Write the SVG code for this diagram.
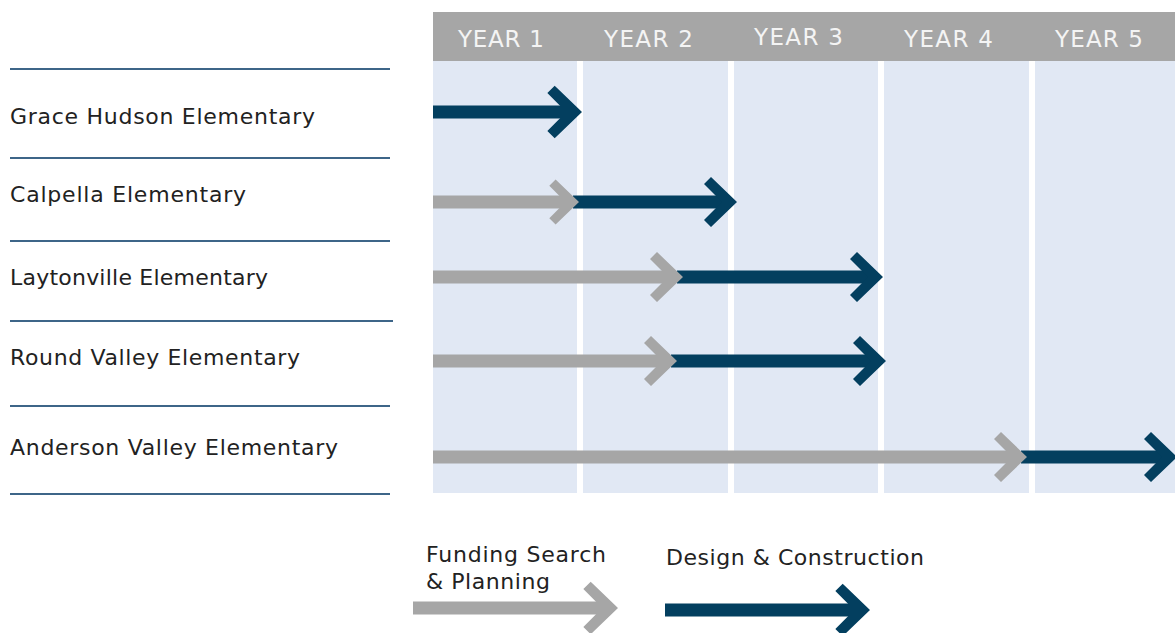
<svg xmlns="http://www.w3.org/2000/svg" width="1175" height="633" viewBox="0 0 1175 633">
<defs>
<style>
.col{fill:#e1e8f4}
.hdr{fill:#a6a6a6}
.yr{font-family:"DejaVu Sans","Liberation Sans",sans-serif;font-size:23px;fill:#f4f4f4}
.lbl{font-family:"DejaVu Sans","Liberation Sans",sans-serif;font-size:22px;fill:#222}
.rule{stroke:#3d6588;stroke-width:2}
.g{fill:#a6a6a6}
.d{fill:#033f5f}
</style>
<polygon id="head" points="0,0 -26,-25 -33,-18 -15,0 -33,18 -26,25"/>
</defs>
<rect width="1175" height="633" fill="#fff"/>
<g id="grid">
<rect class="col" x="433" y="61" width="144" height="432"/>
<rect class="col" x="583" y="61" width="145" height="432"/>
<rect class="col" x="734" y="61" width="144" height="432"/>
<rect class="col" x="884" y="61" width="145" height="432"/>
<rect class="col" x="1035" y="61" width="140" height="432"/>
<rect class="hdr" x="433" y="12" width="742" height="49"/>
<text class="yr" x="458" y="47" textLength="86">YEAR 1</text>
<text class="yr" x="604" y="47" textLength="89">YEAR 2</text>
<text class="yr" x="754" y="45" textLength="89">YEAR 3</text>
<text class="yr" x="904" y="47" textLength="89">YEAR 4</text>
<text class="yr" x="1055" y="47" textLength="88">YEAR 5</text>
</g>
<g id="rules">
<line class="rule" x1="10" y1="69" x2="390" y2="69"/>
<line class="rule" x1="10" y1="158" x2="390" y2="158"/>
<line class="rule" x1="10" y1="241" x2="390" y2="241"/>
<line class="rule" x1="10" y1="321" x2="393" y2="321"/>
<line class="rule" x1="10" y1="406" x2="390" y2="406"/>
<line class="rule" x1="10" y1="494" x2="390" y2="494"/>
</g>
<g id="row-grace">
<text class="lbl" x="10" y="124" textLength="305">Grace Hudson Elementary</text>
</g>
<g id="row-calpella">
<text class="lbl" x="10" y="202" textLength="236">Calpella Elementary</text>
</g>
<g id="row-laytonville">
<text class="lbl" x="10" y="285" textLength="258">Laytonville Elementary</text>
</g>
<g id="row-roundvalley">
<text class="lbl" x="10" y="365" textLength="290">Round Valley Elementary</text>
</g>
<g id="row-anderson">
<text class="lbl" x="10" y="455" textLength="328">Anderson Valley Elementary</text>
</g>
<g id="connectors">
<rect class="d" x="433" y="105.5" width="139" height="13"/>
<use href="#head" class="d" transform="translate(582,112) scale(1.05)"/>
<rect class="d" x="573" y="195.5" width="155" height="13"/>
<use href="#head" class="d" transform="translate(737,202)"/>
<rect class="g" x="433" y="195.5" width="136" height="13"/>
<use href="#head" class="g" transform="translate(579,202) scale(0.9)"/>
<rect class="d" x="677" y="270.5" width="196" height="13"/>
<use href="#head" class="d" transform="translate(883,277)"/>
<rect class="g" x="433" y="270.5" width="240" height="13"/>
<use href="#head" class="g" transform="translate(683,277)"/>
<rect class="d" x="671" y="354.5" width="205" height="13"/>
<use href="#head" class="d" transform="translate(886,361)"/>
<rect class="g" x="433" y="354.5" width="234" height="13"/>
<use href="#head" class="g" transform="translate(677,361)"/>
<rect class="d" x="1021" y="450.5" width="146" height="13"/>
<use href="#head" class="d" transform="translate(1177,457)"/>
<rect class="g" x="433" y="450.5" width="584" height="13"/>
<use href="#head" class="g" transform="translate(1027,457)"/>
</g>
<g id="legend-funding">
<text class="lbl" x="426" y="562" textLength="180">Funding Search</text>
<text class="lbl" x="426" y="589" textLength="124">&amp; Planning</text>
<rect class="g" x="413" y="601.5" width="195" height="13"/>
<use href="#head" class="g" transform="translate(618,608) scale(1.05)"/>
</g>
<g id="legend-design">
<text class="lbl" x="666" y="565" textLength="258">Design &amp; Construction</text>
<rect class="d" x="665" y="603.5" width="195" height="13"/>
<use href="#head" class="d" transform="translate(870,610) scale(1.05)"/>
</g>
</svg>
